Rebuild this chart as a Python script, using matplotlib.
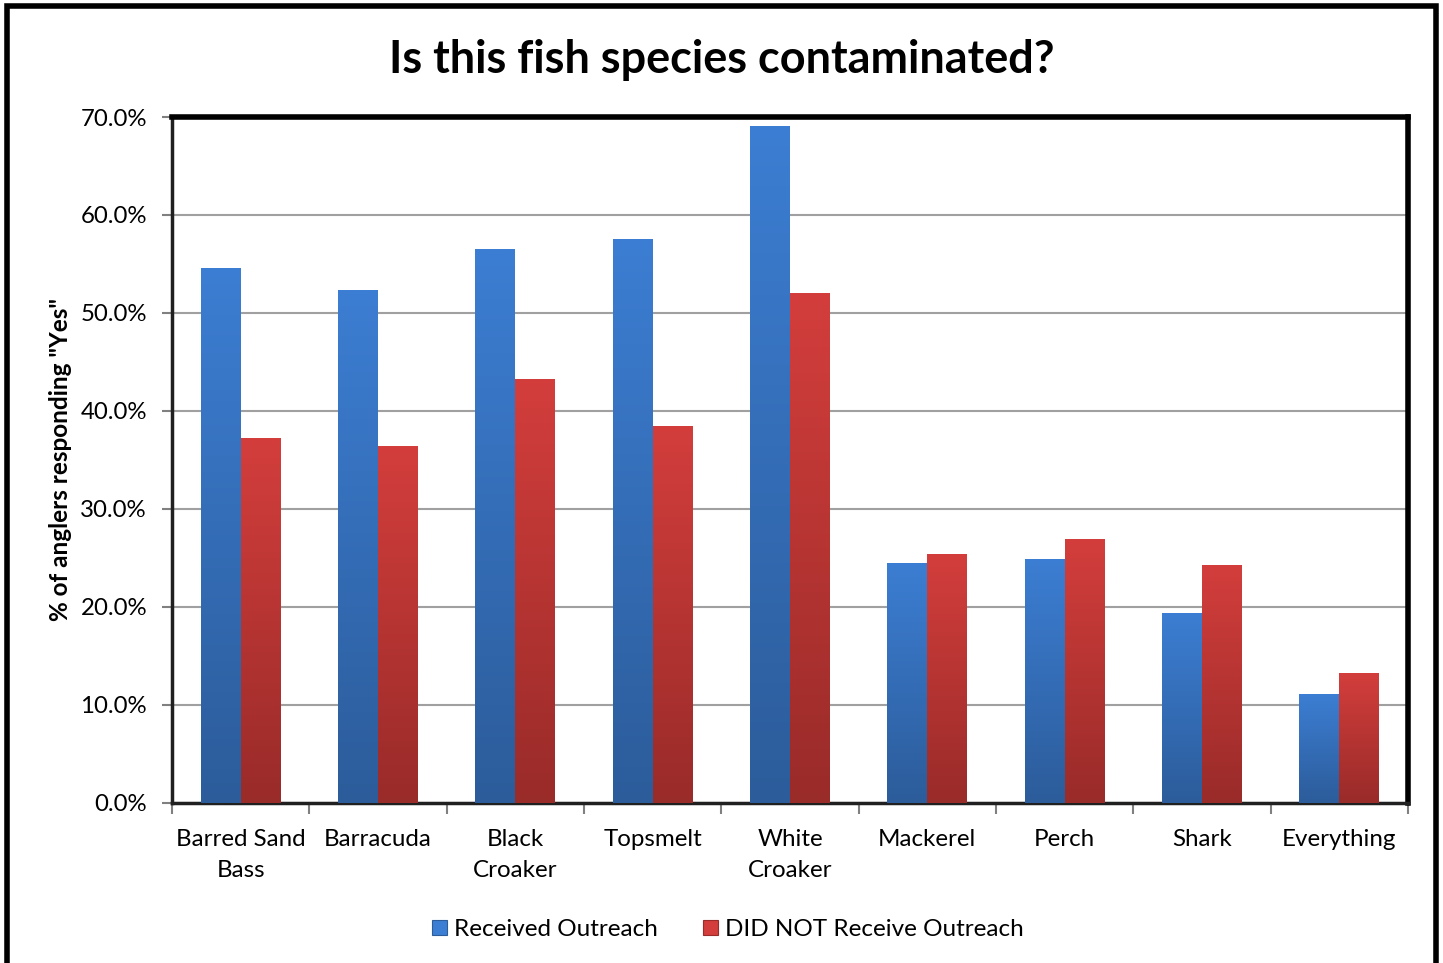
import numpy as np
import matplotlib
matplotlib.use("Agg")
import matplotlib.pyplot as plt
from matplotlib.colors import LinearSegmentedColormap
from matplotlib.patches import Rectangle, Patch
from matplotlib.ticker import FuncFormatter, MultipleLocator

species = ["Barred Sand\nBass", "Barracuda", "Black\nCroaker", "Topsmelt",
           "White\nCroaker", "Mackerel", "Perch", "Shark", "Everything"]
received = [54.6, 52.3, 56.5, 57.6, 69.1, 24.5, 24.9, 19.4, 11.1]
not_received = [37.2, 36.4, 43.3, 38.5, 52.0, 25.4, 26.9, 24.3, 13.3]
series_names = ["Received Outreach", "DID NOT Receive Outreach"]

plt.rcParams["font.family"] = ["Lato", "DejaVu Sans"]

fig = plt.figure(figsize=(14.43, 9.63), dpi=100)
ax = fig.add_axes([0.1192, 0.1662, 0.8565, 0.7123])

x = np.arange(len(species))
w = 0.29
blue_top, blue_bot = "#3C7ED3", "#2C5C9A"
red_top, red_bot = "#D33E3C", "#992B29"

b1 = ax.bar(x - w / 2, received, w, color=blue_top, zorder=3)
b2 = ax.bar(x + w / 2, not_received, w, color=red_top, zorder=3)

# vertical gradient fill for each bar, clipped to the bar shape
def shade(bars, top, bot):
    cmap = LinearSegmentedColormap.from_list("g", [bot, top])
    grad = np.linspace(0, 1, 256).reshape(-1, 1)
    for b in bars:
        x0, y0 = b.get_x(), b.get_y()
        bw, bh = b.get_width(), b.get_height()
        im = ax.imshow(grad, cmap=cmap, origin="lower", aspect="auto",
                       extent=[x0, x0 + bw, y0, y0 + bh], zorder=4)
        im.set_clip_path(b)

shade(b1, blue_top, blue_bot)
shade(b2, red_top, red_bot)

ax.set_xlim(-0.5, len(species) - 0.5)
ax.set_ylim(0, 70)
ax.yaxis.set_major_locator(MultipleLocator(10))
ax.yaxis.set_major_formatter(FuncFormatter(lambda v, p: f"{v:.1f}%"))
ax.grid(axis="y", color="#A0A0A0", linewidth=1.5, zorder=1)
ax.set_axisbelow(True)

ax.set_xticks(np.arange(len(species) + 1) - 0.5)
ax.set_xticklabels([])
ax.set_xticks(x, minor=True)
ax.set_xticklabels(species, minor=True, fontsize=17.4, linespacing=1.55)
ax.tick_params(axis="x", which="major", length=8, width=1.5, color="#808080", direction="out")
ax.tick_params(axis="x", which="minor", length=0, pad=19)
ax.tick_params(axis="y", length=7, width=1.5, color="#808080", labelsize=17.3, pad=11)

for side in ("top", "right"):
    ax.spines[side].set_linewidth(4)
    ax.spines[side].set_color("black")
for side in ("left", "bottom"):
    ax.spines[side].set_linewidth(2.5)
    ax.spines[side].set_color("#202020")

ax.set_ylabel('% of anglers responding "Yes"', fontsize=17.5, fontweight="bold", labelpad=6)

fig.text(0.5005, 0.938, "Is this fish species contaminated?", ha="center", va="center",
         fontsize=32.4, fontweight="bold")

handles = [Patch(facecolor=blue_top, edgecolor=blue_bot, linewidth=0.8),
           Patch(facecolor=red_top, edgecolor=red_bot, linewidth=0.8)]
fig.legend(handles, series_names, loc="center", bbox_to_anchor=(0.5045, 0.035),
           ncol=2, frameon=False, fontsize=17.5, handlelength=0.6, handleheight=0.6,
           handletextpad=0.3, columnspacing=1.85)

# outer frame around the whole chart
fig.patches.append(Rectangle((6.5 / 1443, -0.05), (1436 - 6.5) / 1443, 1.05 - 6.5 / 963,
                             transform=fig.transFigure, fill=False,
                             edgecolor="black", linewidth=4))

fig.savefig("out.png", dpi=100)
